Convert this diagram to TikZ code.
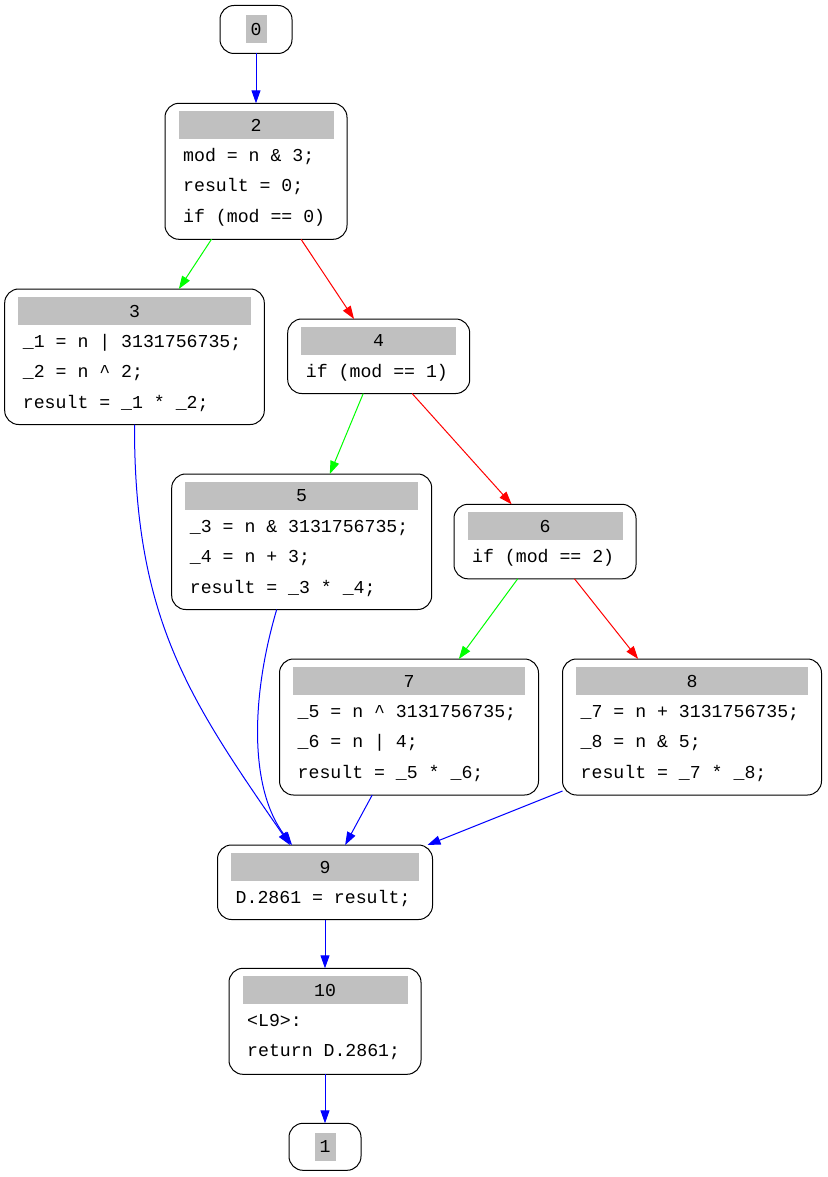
\documentclass[tikz,border=0pt]{standalone}
\usepackage{fontspec}
\setmonofont{Liberation Mono}
\usetikzlibrary{arrows.meta,calc}
\definecolor{hdrgray}{HTML}{C0C0C0}
\definecolor{eblue}{HTML}{0000FF}
\definecolor{egreen}{HTML}{00FF00}
\definecolor{ered}{HTML}{FF0000}
\newcommand{\codefont}{\ttfamily\fontsize{18.2}{22}\selectfont}
\tikzset{
  blk/.style={draw=black, line width=1pt, rounded corners=14pt, fill=white, inner sep=0pt, outer sep=0pt},
  hdr/.style={fill=hdrgray, inner sep=0pt, minimum height=28pt, font=\codefont},
  ln/.style={anchor=base west, inner sep=0pt, font=\codefont},
  edge/.style={line width=1pt, -{Triangle[length=13pt,width=9pt]}},
  eb/.style={edge, color=eblue},
  eg/.style={edge, color=egreen},
  er/.style={edge, color=ered}
}
\newcommand{\cfgblk}[7]{%
  \node[blk, minimum width=#4, minimum height=#5, anchor=north] (#1) at (#2,#3) {};
  \node[hdr, minimum width=#4-27] (#1h) at ($(#1.north)+(0,22)$) {#6};
  \foreach \t [count=\i] in {#7} {
    \node[ln] (#1l\i) at ($(#1.north west)+(18,58+30.6*\i-30.6)$) {\t};
  }%
}
\begin{document}
\begin{tikzpicture}[x=1pt,y=-1pt]
\useasboundingbox (0,0) rectangle (827,1177);
% small terminal nodes
\node[blk, minimum width=72, minimum height=48, anchor=north] (n0) at (256,5.5) {};
\node[hdr, minimum width=21] (n0h) at (n0.center) {0};
\node[blk, minimum width=72, minimum height=47, anchor=north] (n1) at (325,1123.3) {};
\node[hdr, minimum width=21] (n1h) at (n1.center) {1};
% blocks
\cfgblk{n2}{256}{103.3}{182}{136}{2}{mod = n \& 3;, result = 0;, if (mod == 0)}
\cfgblk{n3}{134.5}{289}{259.6}{135.5}{3}{\_1 = n \textbar{} 3131756735;, \_2 = n \textasciicircum{} 2;, result = \_1 * \_2;}
\cfgblk{n4}{378.7}{319}{182}{74.5}{4}{if (mod == 1)}
\cfgblk{n5}{301.7}{474}{260}{135.5}{5}{\_3 = n \& 3131756735;, \_4 = n + 3;, result = \_3 * \_4;}
\cfgblk{n6}{545}{504.3}{182}{74.5}{6}{if (mod == 2)}
\cfgblk{n7}{409}{659}{259}{136}{7}{\_5 = n \textasciicircum{} 3131756735;, \_6 = n \textbar{} 4;, result = \_5 * \_6;}
\cfgblk{n8}{692}{659}{259}{136}{8}{\_7 = n + 3131756735;, \_8 = n \& 5;, result = \_7 * \_8;}
\cfgblk{n9}{325}{845}{215}{74.5}{9}{D.2861 = result;}
\cfgblk{n10}{325}{968.3}{192}{106}{10}{<L9>:, return D.2861;}
% edges
\draw[eb] (n0) -- (n2);
\draw[eg] (n2) -- (n3);
\draw[er] (n2) -- (n4);
\draw[eb] (n3.south) .. controls (134,620) and (190,700) .. ($(n9.north)+(-35,0)$);
\draw[eg] (n4) -- (n5);
\draw[er] (n4) -- (n6);
\draw[eb] ($(n5.south)+(-25,0)$) .. controls (250,700) and (250,790) .. ($(n9.north)+(-33,0)$);
\draw[eg] (n6) -- (n7);
\draw[er] (n6) -- (n8);
\draw[eb] (n7) -- (n9);
\draw[eb] ($(n8.south west)+(0,-4)$) -- ($(n9.north east)+(-5,0)$);
\draw[eb] (n9) -- (n10);
\draw[eb] (n10) -- (n1);
\end{tikzpicture}
\end{document}
